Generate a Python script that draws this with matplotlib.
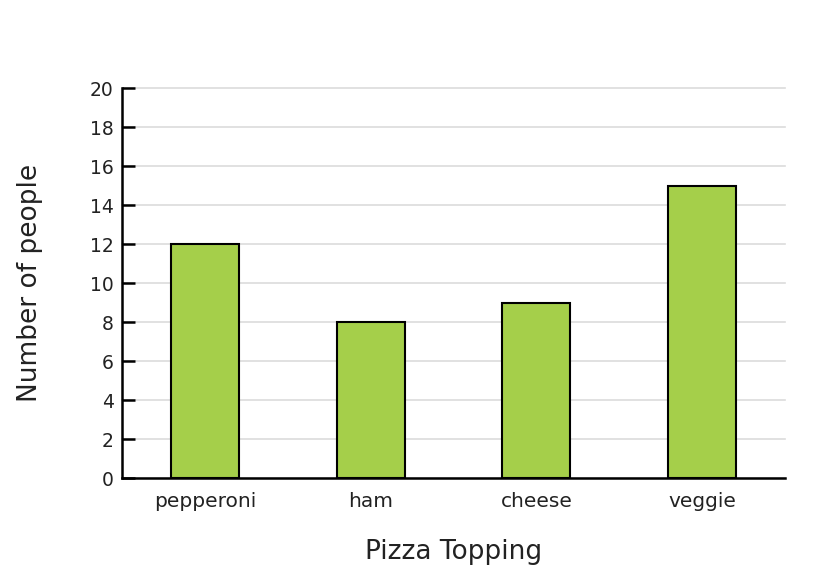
import matplotlib
matplotlib.use("Agg")
import matplotlib.pyplot as plt

toppings = ["pepperoni", "ham", "cheese", "veggie"]
people = [12, 8, 9, 15]
y_ticks = list(range(0, 21, 2))

GREEN = "#a5cf4a"
GRID = "#dcdcdc"
TEXT = "#222222"

plt.rcParams["font.family"] = ["DejaVu Sans"]

fig = plt.figure(figsize=(8.26, 5.86), dpi=100)
ax = fig.add_axes([0.1477, 0.1843, 0.8027, 0.6655])

x = range(len(toppings))
ax.bar(x, people, width=0.41, color=GREEN, edgecolor="black", linewidth=1.5, zorder=3)

ax.set_xlim(-0.5, len(toppings) - 0.5)
ax.set_ylim(0, 20)
ax.set_yticks(y_ticks)
ax.set_xticks(list(x))
ax.set_xticklabels(toppings)
ax.yaxis.grid(True, color=GRID, linewidth=1.2, zorder=0)
for gl in ax.get_ygridlines():
    gl.set_clip_on(False)

for s in ["top", "right"]:
    ax.spines[s].set_visible(False)
ax.spines["left"].set_linewidth(1.8)
ax.spines["bottom"].set_linewidth(1.8)

ax.tick_params(axis="y", direction="in", length=9, width=1.8, labelsize=13.5,
               colors="black", labelcolor=TEXT, pad=6)
ax.tick_params(axis="x", length=0, labelsize=14.5, labelcolor=TEXT, pad=10)

ax.set_xlabel("Pizza Topping", fontsize=19, color=TEXT, labelpad=20)
ax.set_ylabel("Number of people", fontsize=19, color=TEXT, labelpad=34)

fig.savefig("out.png", dpi=100, facecolor="white")
